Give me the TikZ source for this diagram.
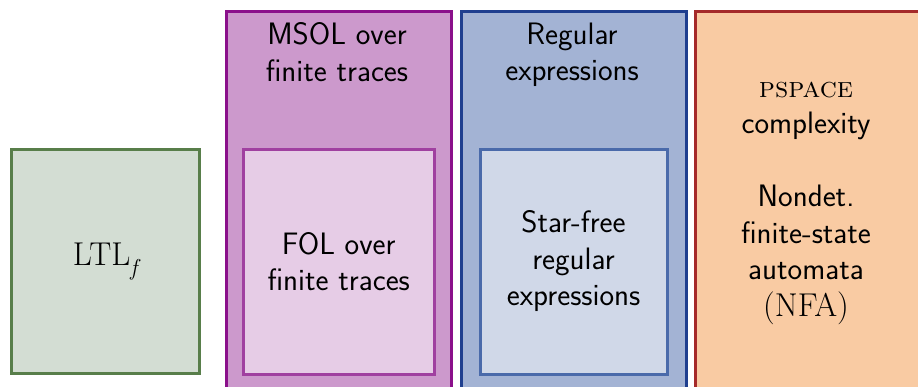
\documentclass[tikz,border=0pt]{standalone}
\begin{document}
\definecolor{ltlfill}{HTML}{D3DDD3}
\definecolor{ltldraw}{HTML}{587E4A}
\definecolor{msolfill}{HTML}{CC99CC}
\definecolor{msoldraw}{HTML}{8B108B}
\definecolor{folfill}{HTML}{E6CCE6}
\definecolor{foldraw}{HTML}{A040A0}
\definecolor{regfill}{HTML}{A3B3D4}
\definecolor{regdraw}{HTML}{1F3F8F}
\definecolor{sffill}{HTML}{D0D8E8}
\definecolor{sfdraw}{HTML}{4A6AAA}
\definecolor{psfill}{HTML}{F9CBA3}
\definecolor{psdraw}{HTML}{A52A2A}
\begin{tikzpicture}[x=1pt,y=-1pt,
  box/.style={draw, line width=3pt, inner sep=0pt, anchor=north west},
  lbl/.style={font=\sffamily\fontsize{31}{36.5}\selectfont, align=center, inner sep=0pt}]
\useasboundingbox (0,0) rectangle (918,386);
\clip (0,0) rectangle (918,386);
% LTLf
\node[box, fill=ltlfill, draw=ltldraw, minimum width=188pt, minimum height=224.5pt,
  font=\rmfamily\fontsize{33}{36}\selectfont] (ltl) at (9.5,147.5)
  {LTL\raisebox{-0.3em}{\fontsize{23}{24}\selectfont\itshape f}};
% MSOL
\node[box, fill=msolfill, draw=msoldraw, minimum width=225.5pt, minimum height=400pt] (msol) at (224.5,9.5) {};
\node[box, fill=folfill, draw=foldraw, minimum width=191.5pt, minimum height=225pt] (fol) at (241.5,147.5) {};
\node[lbl, anchor=north] (msoltxt) at (337,22.5) {MSOL over\\finite traces};
\node[lbl] (foltxt) at (fol.center) {FOL over\\finite traces};
% Regular expressions
\node[box, fill=regfill, draw=regdraw, minimum width=225.5pt, minimum height=400pt] (reg) at (459.5,9.5) {};
\node[box, fill=sffill, draw=sfdraw, minimum width=187pt, minimum height=225pt] (sf) at (478.5,147.5) {};
\node[lbl, anchor=north] (regtxt) at (572,22.5) {Regular\\expressions};
\node[lbl] (sftxt) at (sf.center) {Star-free\\regular\\expressions};
% PSPACE
\node[box, fill=psfill, draw=psdraw, minimum width=240pt, minimum height=400pt] (ps) at (693.5,9.5) {};
\node[lbl, anchor=north] (pstxt) at (806,81.5) {{\rmfamily\fontsize{29}{36.5}\selectfont\textsc{pspace}}\\complexity\\[36.5pt]Nondet.\\finite-state\\automata\\{\rmfamily\fontsize{33}{38}\selectfont (NFA)}};
\end{tikzpicture}
\end{document}
